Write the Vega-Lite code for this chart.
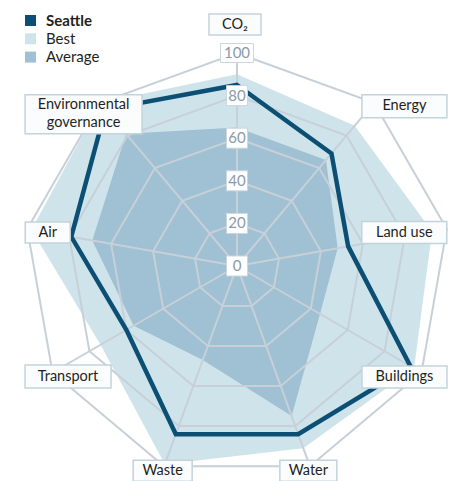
{
  "$schema": "https://vega.github.io/schema/vega-lite/v6.json",
  "width": 461,
  "height": 481,
  "autosize": "none",
  "padding": 0,
  "config": {"view": {"stroke": null}, "font": "Lato"},
  "datasets": {
    "axes": [
      {"axis": "CO₂", "i": 0, "Seattle": 85, "Best": 90, "Average": 65},
      {"axis": "Energy", "i": 1, "Seattle": 69, "Best": 86, "Average": 65},
      {"axis": "Land use", "i": 2, "Seattle": 53, "Best": 93, "Average": 48},
      {"axis": "Buildings", "i": 3, "Seattle": 94, "Best": 96, "Average": 45},
      {"axis": "Water", "i": 4, "Seattle": 84, "Best": 91, "Average": 75},
      {"axis": "Waste", "i": 5, "Seattle": 84, "Best": 99, "Average": 47},
      {"axis": "Transport", "i": 6, "Seattle": 60, "Best": 74, "Average": 56},
      {"axis": "Air", "i": 7, "Seattle": 79, "Best": 98, "Average": 69},
      {"axis": "Environmental governance", "i": 8, "Seattle": 96, "Best": 100, "Average": 81}
    ],
    "levels": [
      {"level": 0, "i": [0, 1, 2, 3, 4, 5, 6, 7, 8]},
      {"level": 20, "i": [0, 1, 2, 3, 4, 5, 6, 7, 8]},
      {"level": 40, "i": [0, 1, 2, 3, 4, 5, 6, 7, 8]},
      {"level": 60, "i": [0, 1, 2, 3, 4, 5, 6, 7, 8]},
      {"level": 80, "i": [0, 1, 2, 3, 4, 5, 6, 7, 8]},
      {"level": 100, "i": [0, 1, 2, 3, 4, 5, 6, 7, 8]}
    ]
  },
  "layer": [
    {
      "data": {"name": "axes"},
      "transform": [
        {"fold": ["Best"], "as": ["series", "value"]},
        {"calculate": "datum.i*2*PI/9", "as": "a"},
        {"calculate": "datum.value*sin(datum.a)", "as": "px"},
        {"calculate": "datum.value*cos(datum.a)", "as": "py"}
      ],
      "mark": {"type": "line", "interpolate": "linear-closed", "stroke": "transparent", "strokeWidth": 0, "fillOpacity": 1},
      "encoding": {
        "x": {"field": "px", "type": "quantitative", "scale": {"domain": [-111.268, 105.164], "nice": false, "zero": false}, "axis": null},
        "y": {"field": "py", "type": "quantitative", "scale": {"domain": [-100.939, 124.883], "nice": false, "zero": false}, "axis": null},
        "order": {"field": "i", "type": "quantitative"},
        "fill": {
          "field": "series", "type": "nominal",
          "scale": {"domain": ["Seattle", "Best", "Average"], "range": ["#0b4f75", "#cfe4ea", "#a0c0d4"]},
          "legend": {
            "orient": "none", "legendX": 23, "legendY": 13, "title": null, "padding": 0,
            "symbolType": "square", "symbolSize": 121, "symbolStrokeWidth": 0, "symbolOpacity": 1,
            "labelFontSize": 15, "labelColor": "#231f20", "labelFont": "Lato", "labelOffset": 8,
            "rowPadding": 2.3,
            "labelFontWeight": {"expr": "datum.label === 'Seattle' ? 'bold' : 'normal'"}
          }
        }
      }
    },
    {
      "data": {"name": "axes"},
      "transform": [
        {"fold": ["Average"], "as": ["series", "value"]},
        {"calculate": "datum.i*2*PI/9", "as": "a"},
        {"calculate": "datum.value*sin(datum.a)", "as": "px"},
        {"calculate": "datum.value*cos(datum.a)", "as": "py"}
      ],
      "mark": {"type": "line", "interpolate": "linear-closed", "stroke": "transparent", "strokeWidth": 0, "fillOpacity": 1},
      "encoding": {
        "x": {"field": "px", "type": "quantitative"},
        "y": {"field": "py", "type": "quantitative"},
        "order": {"field": "i", "type": "quantitative"},
        "fill": {"field": "series", "type": "nominal"}
      }
    },
    {
      "data": {"name": "levels"},
      "transform": [
        {"flatten": ["i"]},
        {"filter": "datum.level > 0"},
        {"calculate": "datum.i*2*PI/9", "as": "a"},
        {"calculate": "datum.level*sin(datum.a)", "as": "px"},
        {"calculate": "datum.level*cos(datum.a)", "as": "py"}
      ],
      "mark": {"type": "line", "interpolate": "linear-closed", "stroke": "#c7d0d8", "strokeWidth": 2},
      "encoding": {
        "x": {"field": "px", "type": "quantitative"},
        "y": {"field": "py", "type": "quantitative"},
        "order": {"field": "i", "type": "quantitative"},
        "detail": {"field": "level", "type": "nominal"}
      }
    },
    {
      "data": {"name": "axes"},
      "transform": [
        {"calculate": "datum.i*2*PI/9", "as": "a"},
        {"calculate": "0", "as": "px"},
        {"calculate": "0", "as": "py"},
        {"calculate": "100*sin(datum.a)", "as": "sx"},
        {"calculate": "100*cos(datum.a)", "as": "sy"}
      ],
      "mark": {"type": "rule", "stroke": "#c7d0d8", "strokeWidth": 2},
      "encoding": {
        "x": {"field": "px", "type": "quantitative"},
        "y": {"field": "py", "type": "quantitative"},
        "x2": {"field": "sx"},
        "y2": {"field": "sy"}
      }
    },
    {
      "data": {"name": "axes"},
      "transform": [
        {"calculate": "datum.i*2*PI/9", "as": "a"},
        {"calculate": "datum.Seattle*sin(datum.a)", "as": "px"},
        {"calculate": "datum.Seattle*cos(datum.a)", "as": "py"}
      ],
      "mark": {"type": "line", "interpolate": "linear-closed", "stroke": "#0b4f75", "strokeWidth": 4.5, "strokeJoin": "miter"},
      "encoding": {
        "x": {"field": "px", "type": "quantitative"},
        "y": {"field": "py", "type": "quantitative"},
        "order": {"field": "i", "type": "quantitative"}
      }
    },
    {
      "data": {"name": "levels"},
      "transform": [
        {"calculate": "0", "as": "px"},
        {"calculate": "datum.level", "as": "py"},
        {"calculate": "datum.level == 100 ? 'wide' : 'narrow'", "as": "box"}
      ],
      "layer": [
        {
          "mark": {"type": "point", "filled": true, "fill": "#ffffff", "stroke": "#ccd6dd", "strokeWidth": 1, "size": 400, "opacity": 1},
          "encoding": {
            "x": {"field": "px", "type": "quantitative"},
            "y": {"field": "py", "type": "quantitative"},
            "shape": {
              "field": "box", "type": "nominal", "legend": null,
              "scale": {
                "domain": ["wide", "narrow", "CO₂", "Energy", "Land use", "Buildings", "Water", "Waste", "Transport", "Air", "Environmental governance"],
                "range": [
                  "M-1.65,-0.95L1.65,-0.95L1.65,0.95L-1.65,0.95Z",
                  "M-1.05,-1L1.05,-1L1.05,1L-1.05,1Z",
                  "M-2.6,-1.05L2.6,-1.05L2.6,1.05L-2.6,1.05Z",
                  "M-4.25,-1.15L4.25,-1.15L4.25,1.15L-4.25,1.15Z",
                  "M-4.25,-1.1L4.25,-1.1L4.25,1.1L-4.25,1.1Z",
                  "M-4.25,-1.1L4.25,-1.1L4.25,1.1L-4.25,1.1Z",
                  "M-2.85,-1.05L2.85,-1.05L2.85,1.05L-2.85,1.05Z",
                  "M-2.95,-1.05L2.95,-1.05L2.95,1.05L-2.95,1.05Z",
                  "M-4.3,-1.15L4.3,-1.15L4.3,1.15L-4.3,1.15Z",
                  "M-2.25,-1.05L2.25,-1.05L2.25,1.05L-2.25,1.05Z",
                  "M-5.85,-1.95L5.85,-1.95L5.85,1.95L-5.85,1.95Z"
                ]
              }
            }
          }
        },
        {
          "mark": {"type": "text", "fontSize": 15, "color": "#8a9aa8", "align": "center", "baseline": "middle"},
          "encoding": {
            "x": {"field": "px", "type": "quantitative"},
            "y": {"field": "py", "type": "quantitative"},
            "text": {"field": "level", "type": "quantitative"}
          }
        }
      ]
    },
    {
      "data": {"name": "axes"},
      "transform": [
        {"calculate": "datum.i*2*PI/9", "as": "a"},
        {"calculate": "100*sin(datum.a) + [-2, 30.5, -42.5, -17, -1.5, -1.5, 15.5, 20.5, -16.5][datum.i]/2.13", "as": "px"},
        {"calculate": "100*cos(datum.a) - [-28.5, 3.5, 3.5, 4.5, 4.5, 4.5, 4, 3.5, 11.5][datum.i]/2.13", "as": "py"},
        {"calculate": "datum.py + (datum.i == 8 ? 9/2.13 : 0)", "as": "ty"},
        {"calculate": "replace(datum.axis, 'Environmental ', 'Environmental\\n')", "as": "lbl"},
        {"calculate": "datum.axis", "as": "box"}
      ],
      "layer": [
        {
          "mark": {"type": "point", "filled": true, "fill": "#fafcfd", "stroke": "#c3d3dc", "strokeWidth": 1.5, "size": 400, "opacity": 1},
          "encoding": {
            "x": {"field": "px", "type": "quantitative"},
            "y": {"field": "py", "type": "quantitative"},
            "shape": {"field": "box", "type": "nominal", "legend": null}
          }
        },
        {
          "mark": {"type": "text", "fontSize": 14.5, "color": "#231f20", "align": "center", "baseline": "middle", "lineBreak": "\n", "lineHeight": 18},
          "encoding": {
            "x": {"field": "px", "type": "quantitative"},
            "y": {"field": "ty", "type": "quantitative"},
            "text": {"field": "lbl", "type": "nominal"}
          }
        }
      ]
    }
  ]
}
